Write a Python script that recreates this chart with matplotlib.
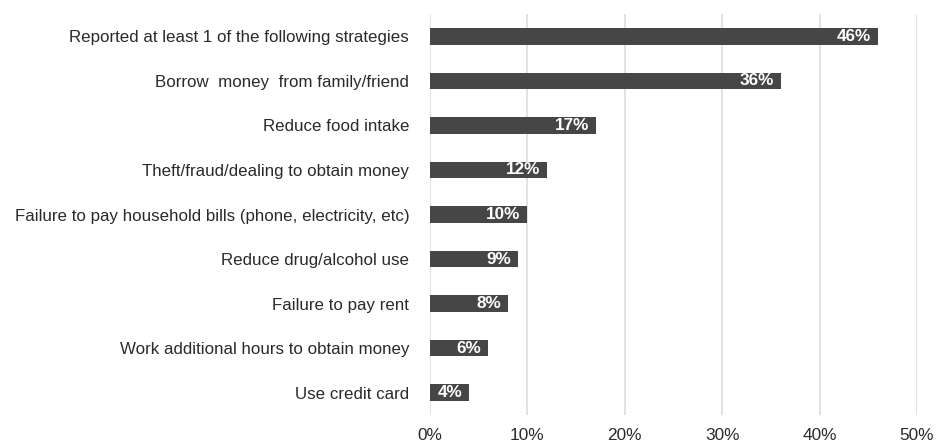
import matplotlib
matplotlib.use("Agg")
import matplotlib.pyplot as plt
from matplotlib.ticker import FuncFormatter

plt.rcParams['font.family'] = ['Liberation Sans', 'DejaVu Sans']

categories = [
    "Reported at least 1 of the following strategies",
    "Borrow  money  from family/friend",
    "Reduce food intake",
    "Theft/fraud/dealing to obtain money",
    "Failure to pay household bills (phone, electricity, etc)",
    "Reduce drug/alcohol use",
    "Failure to pay rent",
    "Work additional hours to obtain money",
    "Use credit card",
]
values = [46, 36, 17, 12, 10, 9, 8, 6, 4]
xticks = [0, 10, 20, 30, 40, 50]

fig = plt.figure(figsize=(9.39, 4.44), dpi=100)
ax = fig.add_axes([430/939, 1 - 415/444, (917-430)/939, (415-14)/444])

ypos = list(range(len(categories)))[::-1]
ax.barh(ypos, values, height=0.37, color='#464646', zorder=3)
for y, v in zip(ypos, values):
    ax.text(v - 0.7, y, f"{v}%", ha='right', va='center', color='white',
            fontsize=12.3, fontweight='bold', zorder=4)

ax.set_xlim(0, 50)
ax.set_ylim(-0.5, len(categories) - 0.5)
ax.set_xticks(xticks)
ax.xaxis.set_major_formatter(FuncFormatter(lambda x, p: f"{int(x)}%"))
ax.set_yticks(ypos)
ax.set_yticklabels(categories)
ax.tick_params(axis='y', length=0, pad=15, labelsize=12.2, colors='#2a2a2a')
ax.tick_params(axis='x', length=0, pad=9, labelsize=12.4, colors='#2a2a2a')
ax.grid(axis='x', color='#dddddd', linewidth=1.2, zorder=0)
for s in ax.spines.values():
    s.set_visible(False)

fig.savefig("out.png", dpi=100)
